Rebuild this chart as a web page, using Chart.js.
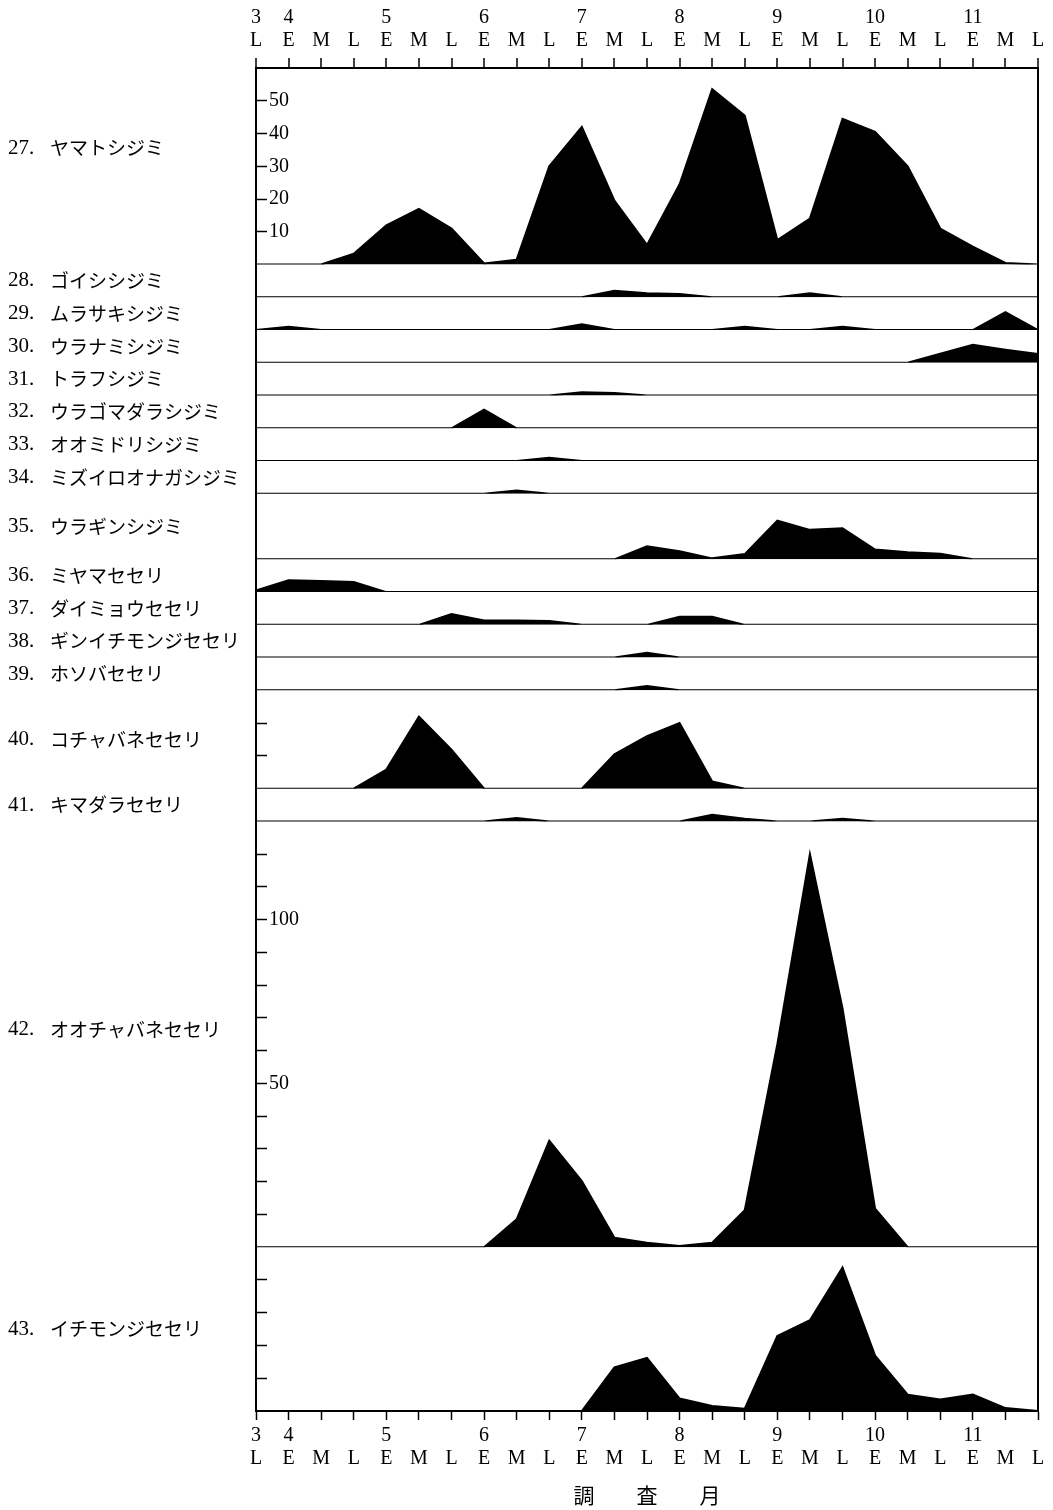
<!DOCTYPE html>
<html lang="ja">
<head>
<meta charset="utf-8">
<title>蝶類の旬別個体数</title>
<script src="https://cdn.jsdelivr.net/npm/chart.js@4.4.1/dist/chart.umd.min.js"></script>
<style>
html,body{margin:0;padding:0;background:#fff;}
canvas{display:block;}
</style>
</head>
<body>
<canvas id="chart" width="1053" height="1510"></canvas>
<script>
// ---- categories (ten-day periods, March late .. November late) ----
const periods = ['L','E','M','L','E','M','L','E','M','L','E','M','L','E','M','L','E','M','L','E','M','L','E','M','L'];
const months  = ['3','4','','','5','','','6','','','7','','','8','','','9','','','10','','','11','',''];

// ---- species ----
const speciesNo = ['27','28','29','30','31','32','33','34','35','36','37','38','39','40','41','42','43'];
const speciesNames = ['ヤマトシジミ','ゴイシシジミ','ムラサキシジミ','ウラナミシジミ','トラフシジミ',
  'ウラゴマダラシジミ','オオミドリシジミ','ミズイロオナガシジミ','ウラギンシジミ','ミヤマセセリ',
  'ダイミョウセセリ','ギンイチモンジセセリ','ホソバセセリ','コチャバネセセリ','キマダラセセリ',
  'オオチャバネセセリ','イチモンジセセリ'];

// ---- series values (individuals per period) ----
const yamatoShijimi      = [0,0,0,3.3,12,17,11,0.3,1.5,30,42,19.5,6,24.5,53.5,45.5,7.5,14,44.5,40.5,30,11,5.5,0.5,0];
const goiShijimi         = [0,0,0,0,0,0,0,0,0,0,0,2,1.2,1,0,0,0,1.2,0,0,0,0,0,0,0];
const murasakiShijimi    = [0,1,0,0,0,0,0,0,0,0,1.8,0,0,0,0,1,0,0,1,0,0,0,0,5.5,0];
const uranamiShijimi     = [0,0,0,0,0,0,0,0,0,0,0,0,0,0,0,0,0,0,0,0,0,2.75,5.5,4,2.7];
const torafuShijimi      = [0,0,0,0,0,0,0,0,0,0,1,0.8,0,0,0,0,0,0,0,0,0,0,0,0,0];
const uragomadaraShijimi = [0,0,0,0,0,0,0,5.7,0,0,0,0,0,0,0,0,0,0,0,0,0,0,0,0,0];
const oomidoriShijimi    = [0,0,0,0,0,0,0,0,0,1,0,0,0,0,0,0,0,0,0,0,0,0,0,0,0];
const mizuiroonagaShijimi= [0,0,0,0,0,0,0,0,1,0,0,0,0,0,0,0,0,0,0,0,0,0,0,0,0];
const uraginShijimi      = [0,0,0,0,0,0,0,0,0,0,0,0,4,2.5,0.3,1.6,11.8,9,9.5,3,2.2,1.7,0,0,0];
const miyamaSeseri       = [0.5,3.6,3.4,3.1,0,0,0,0,0,0,0,0,0,0,0,0,0,0,0,0,0,0,0,0,0];
const daimyoSeseri       = [0,0,0,0,0,0,3.3,1.3,1.3,1.2,0,0,0,2.5,2.5,0,0,0,0,0,0,0,0,0,0];
const ginichimonjiSeseri = [0,0,0,0,0,0,0,0,0,0,0,0,1.5,0,0,0,0,0,0,0,0,0,0,0,0];
const hosobaSeseri       = [0,0,0,0,0,0,0,0,0,0,0,0,1.3,0,0,0,0,0,0,0,0,0,0,0,0];
const kochabaneSeseri    = [0,0,0,0,5.8,22,11.9,0,0,0,0,10.5,16,20,2.2,0,0,0,0,0,0,0,0,0,0];
const kimadaraSeseri     = [0,0,0,0,0,0,0,0,1,0,0,0,0,0,2,0.8,0,0,0.8,0,0,0,0,0,0];
const oochabaneSeseri    = [0,0,0,0,0,0,0,0,8.5,32.5,20.2,2.9,1.4,0.4,1.4,11.3,62,120,73,11.8,0,0,0,0,0];
const ichimonjiSeseri    = [0,0,0,0,0,0,0,0,0,0,0,13.3,16.2,3.8,1.5,0.7,22.9,27.7,43.8,16.9,5,3.5,5,0.9,0];

const series = [yamatoShijimi, goiShijimi, murasakiShijimi, uranamiShijimi, torafuShijimi,
  uragomadaraShijimi, oomidoriShijimi, mizuiroonagaShijimi, uraginShijimi, miyamaSeseri,
  daimyoSeseri, ginichimonjiSeseri, hosobaSeseri, kochabaneSeseri, kimadaraSeseri,
  oochabaneSeseri, ichimonjiSeseri];

// ---- per-row axis ranges and tick values ----
const rowMax    = [60,10,10,10,10,10,10,10,20,10,10,10,10,30,10,130,50];
const tickStep  = [10,0,0,0,0,0,0,0,0,0,0,0,0,10,0,10,10];
const tickLabelValues = {'27':[10,20,30,40,50], '42':[50,100]};

// ---- build chart ----
const xLabels = periods.map((p, i) => [months[i], p]);
const rowIds = speciesNo.map(n => 'y' + n);
const BLACK = '#000';
const NONE = 'rgba(0,0,0,0)';
const serif = 'Liberation Serif';
const axisFont = {family: serif, size: 20, lineHeight: 1.15};

const yScales = {};
rowIds.forEach((id, i) => {
  const max = rowMax[i];
  const step = tickStep[i];
  const lab = tickLabelValues[speciesNo[i]] || null;
  yScales[id] = {
    type: 'linear',
    position: 'left',
    stack: 'rows',
    stackWeight: max,
    weight: rowIds.length - i,
    min: 0,
    max: max,
    afterFit: s => { s.width = 256; },
    border: {display: true, color: BLACK, width: 2},
    grid: {
      display: step > 0,
      drawOnChartArea: false,
      drawTicks: true,
      tickLength: -11,
      tickWidth: 1.5,
      tickColor: c => (c.tick && c.tick.value > 0 && c.tick.value < max) ? BLACK : NONE
    },
    ticks: {
      display: !!lab,
      autoSkip: false,
      stepSize: step > 0 ? step : max,
      mirror: true,
      padding: 13,
      color: BLACK,
      font: {family: serif, size: 20},
      callback: v => (lab && lab.includes(v)) ? String(v) : ''
    }
  };
});

const datasets = series.map((d, i) => ({
  label: speciesNames[i],
  data: d,
  xAxisID: 'x',
  yAxisID: rowIds[i],
  borderColor: BLACK,
  backgroundColor: BLACK,
  borderWidth: 2,
  fill: 'origin',
  pointRadius: 0,
  tension: 0
}));

const rowLabelShift = {'27': -18, '42': -5};
const rowLabels = {
  id: 'rowLabels',
  afterDraw(chart) {
    const ctx = chart.ctx;
    ctx.save();
    ctx.fillStyle = BLACK;
    ctx.textBaseline = 'middle';
    ctx.textAlign = 'left';
    rowIds.forEach((id, i) => {
      const s = chart.scales[id];
      const yc = (s.top + s.bottom) / 2 + (rowLabelShift[speciesNo[i]] || 0);
      ctx.font = '21px "Liberation Serif"';
      ctx.fillText(speciesNo[i] + '.', 8, yc);
      ctx.font = '19px "Noto Sans CJK JP"';
      ctx.fillText(speciesNames[i], 50, yc);
    });
    ctx.restore();
  }
};

new Chart(document.getElementById('chart'), {
  type: 'line',
  data: {labels: xLabels, datasets},
  plugins: [rowLabels],
  options: {
    responsive: false,
    animation: false,
    devicePixelRatio: 1,
    layout: {padding: {left: 0, right: 15, top: 0, bottom: 0}},
    plugins: {legend: {display: false}, tooltip: {enabled: false}, title: {display: false}},
    scales: {
      x: {
        type: 'category',
        position: 'bottom',
        afterFit: s => { s.height = 99; },
        border: {display: true, color: BLACK, width: 2},
        grid: {drawOnChartArea: false, drawTicks: true, tickLength: 9, tickColor: BLACK, tickWidth: 1.5},
        ticks: {autoSkip: false, maxRotation: 0, minRotation: 0, padding: 4, color: BLACK, font: axisFont},
        title: {display: true, text: '調　　査　　月', color: BLACK,
                font: {family: 'Noto Sans CJK JP', size: 21, lineHeight: 1.2}, padding: {top: 0, bottom: 2}}
      },
      x2: {
        type: 'category',
        position: 'top',
        labels: xLabels,
        afterFit: s => { s.height = 68; },
        border: {display: true, color: BLACK, width: 2},
        grid: {
          drawOnChartArea: true,
          color: c => c.index === xLabels.length - 1 ? BLACK : NONE,
          lineWidth: 2,
          drawTicks: true, tickLength: 10, tickColor: BLACK, tickWidth: 1.5
        },
        ticks: {autoSkip: false, maxRotation: 0, minRotation: 0, padding: 6, color: BLACK, font: axisFont}
      },
      ...yScales
    }
  }
});
</script>
</body>
</html>
